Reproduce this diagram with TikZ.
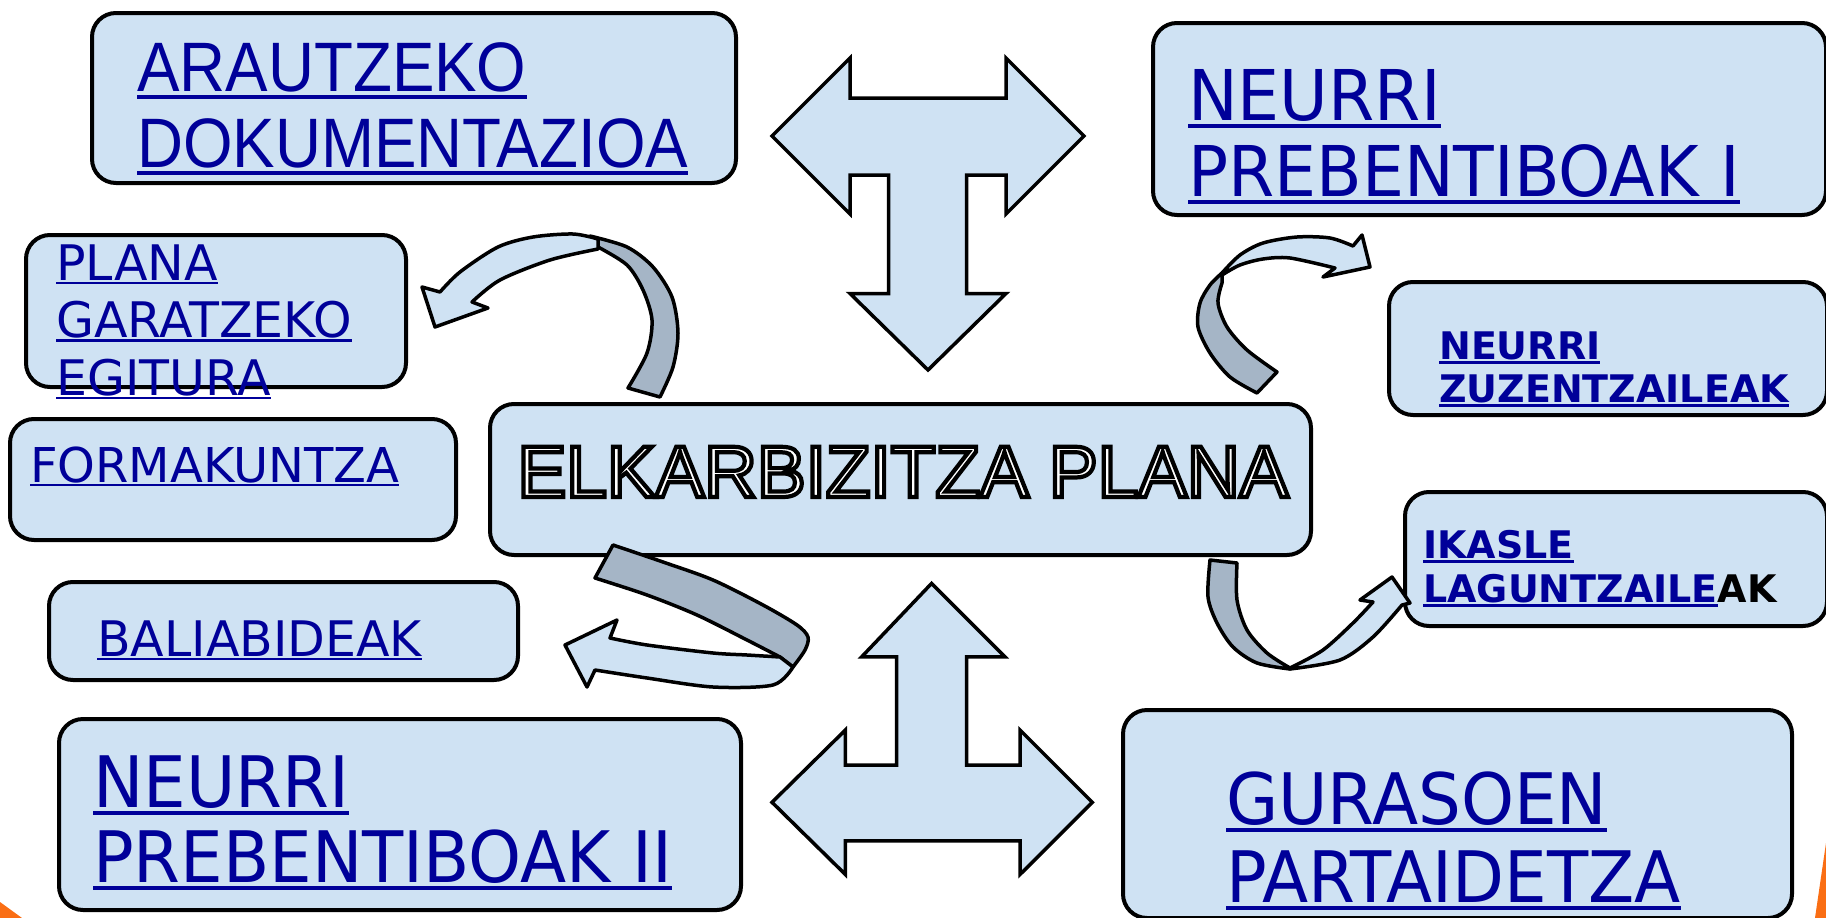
\documentclass[tikz,border=0pt]{standalone}
\usepackage{fontspec}
\setmainfont{DejaVu Sans}
\newfontfamily\arialN[FakeStretch=0.91]{Liberation Sans}
\newfontfamily\arialF{Liberation Sans}
\newfontfamily\verdN[FakeStretch=0.95]{DejaVu Sans}
\newfontfamily\verd{DejaVu Sans}
\definecolor{boxblue}{RGB}{207,226,243}
\definecolor{ribbon}{RGB}{165,181,198}
\definecolor{linkblue}{RGB}{0,0,153}
\definecolor{slideorange}{RGB}{250,110,20}
\newlength\ulw
% #1 gap below baseline, #2 thickness, #3 text
\newcommand\ulx[3]{\settowidth\ulw{#3}\rlap{\rule[-\dimexpr#1+#2\relax]{\ulw}{#2}}#3}
\newcommand\ulbig{\ulx{4pt}{3.5pt}}
\newcommand\ulmid{\ulx{1.5pt}{2.5pt}}
\newcommand\ulsm{\ulx{1.5pt}{3pt}}
\newcommand\outl[1]{{\color{black}\special{pdf:literal direct 2 Tr 4.2 w 0 0 0 RG 1 1 1 rg}#1\special{pdf:literal direct 0 Tr 1 w 0 0 0 rg 0 0 0 RG}}}
\begin{document}
\begin{tikzpicture}[x=1pt,y=-1pt,
  box/.style={rectangle, draw=black, line width=4pt, fill=boxblue, rounded corners=24pt, inner sep=0pt, anchor=north west},
  blockarrow/.style={draw=black, line width=3.5pt, fill=boxblue, line join=miter},
  ribbonlight/.style={draw=black, line width=3.5pt, fill=boxblue, line join=round},
  ribbondark/.style={draw=black, line width=3.5pt, fill=ribbon, line join=round},
  txt/.style={inner sep=0pt, anchor=base west, text=linkblue},
]
\useasboundingbox (0,0) rectangle (1826,918);
\fill[white] (0,0) rectangle (1826,918);
\fill[slideorange] (0,902) -- (22,918) -- (0,918) -- cycle;
\fill[slideorange] (1826,843) -- (1815,918) -- (1826,918) -- cycle;

% boxes
\node[box, minimum width=644pt, minimum height=170pt] (b1) at (90,11) {};
\node[box, minimum width=673pt, minimum height=192pt] (b2) at (1151,21) {};
\node[box, minimum width=380pt, minimum height=152pt] (b3) at (24,233) {};
\node[box, minimum width=446pt, minimum height=121pt] (b4) at (8,417) {};
\node[box, minimum width=469pt, minimum height=98pt] (b5) at (47,580) {};
\node[box, minimum width=682pt, minimum height=191pt] (b6) at (57,717) {};
\node[box, minimum width=669pt, minimum height=208pt] (b7) at (1121,708) {};
\node[box, minimum width=438pt, minimum height=133pt] (b8) at (1387,280) {};
\node[box, minimum width=422pt, minimum height=134pt] (b9) at (1403,490) {};
\node[box, minimum width=821pt, minimum height=151pt] (b10) at (488,402) {};

% block arrows
\filldraw[blockarrow] (772,136) -- (850,58) -- (850,98) -- (1006,98) -- (1006,58) -- (1084,136)
  -- (1006,214) -- (1006,175) -- (966.5,175) -- (966.5,293.5) -- (1006,293.5) -- (928,370)
  -- (850,293.5) -- (888.5,293.5) -- (888.5,175) -- (850,175) -- (850,214) -- cycle;
\filldraw[blockarrow] (931.6,583.4) -- (1005,656.8) -- (966.5,656.8) -- (966.5,765) -- (1020,765)
  -- (1020,730) -- (1092.3,802.3) -- (1020,874.5) -- (1020,840.8) -- (845.4,840.8) -- (845.4,874.5)
  -- (772,802.3) -- (845.4,730) -- (845.4,765) -- (896.7,765) -- (896.7,656.8) -- (861.7,656.8) -- cycle;

% curved arrow 1 (to PLANA box)
\filldraw[ribbondark] plot[smooth] coordinates {(598,247) (627,265) (643,290) (652,320) (647,353) (628,388)}
  -- plot[smooth] coordinates {(660,397) (673,367) (678,333) (672,297) (653,267) (627,247) (590,236)} -- cycle;
\filldraw[ribbonlight] plot[smooth] coordinates {(598,239) (573,234) (533,237) (498,247) (460,272) (440,292)}
  -- (422,287) -- (435,327) -- (488,308)
  -- plot[smooth] coordinates {(472,302) (500,280) (550,260) (598,249)} -- cycle;

% curved arrow 2 (to NEURRI ZUZENTZAILEAK)
\filldraw[ribbondark] plot[smooth] coordinates {(1257,393) (1230,377) (1210,353) (1198,327) (1200,303) (1210,285) (1222,273)}
  -- plot[smooth] coordinates {(1222,283) (1218,303) (1227,327) (1247,350) (1277,372)} -- cycle;
\filldraw[ribbonlight] plot[smooth] coordinates {(1222,273) (1240,255) (1263,243) (1297,237) (1330,238) (1353,246)}
  -- (1362,235) -- (1370,267) -- (1323,277)
  -- plot[smooth] coordinates {(1335,268) (1290,258) (1263,259) (1240,265) (1222,275)} -- cycle;

% curved arrow 3 (to BALIABIDEAK)
\filldraw[ribbondark] plot[smooth] coordinates {(613,545) (663,562) (713,580) (763,605) (797,625) (808,637) (805,650) (793,667)}
  -- plot[smooth] coordinates {(780,657) (747,640) (697,615) (647,595) (595,578)} -- cycle;
\filldraw[ribbonlight] plot[smooth] coordinates {(780,657) (747,655) (713,653) (647,645) (610,638)}
  -- (617,620) -- (565,645) -- (587,687)
  -- plot[smooth] coordinates {(595,670) (647,678) (713,687) (773,685) (793,667)} -- cycle;

% curved arrow 4 (to IKASLE LAGUNTZAILEAK)
\filldraw[ribbondark] plot[smooth] coordinates {(1210,560) (1208,597) (1217,623) (1233,647) (1257,663) (1290,669)}
  -- plot[smooth] coordinates {(1290,668) (1267,653) (1247,630) (1237,600) (1237,563)} -- cycle;
\filldraw[ribbonlight] plot[smooth] coordinates {(1290,669) (1340,660) (1373,637) (1402,605)}
  -- (1410,603) -- (1392,577) -- (1360,600)
  -- plot[smooth] coordinates {(1373,602) (1353,623) (1323,650) (1290,668)} -- cycle;

% texts
\node[txt, font={\arialN\fontsize{70}{76}\selectfont}] (t1) at (137,91)
  {\vtop{\hbox{\ulbig{ARAUTZEKO}}\hbox{\ulbig{DOKUMENTAZIOA}}}};
\node[txt, font={\verdN\fontsize{70}{76}\selectfont}] (t2) at (1188,120)
  {\vtop{\hbox{\ulbig{NEURRI}}\hbox{\ulbig{PREBENTIBOAK I}}}};
\node[txt, font={\verd\fontsize{49}{57.5}\selectfont}] (t3) at (56,280)
  {\vtop{\hbox{\ulmid{PLANA}}\hbox{\ulmid{GARATZEKO}}\hbox{\ulmid{EGITURA}}}};
\node[txt, font={\verd\fontsize{48}{57}\selectfont}] (t4) at (30,482) {\ulmid{FORMAKUNTZA}};
\node[txt, font={\verd\fontsize{49}{57}\selectfont}] (t5) at (97,656) {\ulmid{BALIABIDEAK}};
\node[txt, font={\verdN\fontsize{71}{75}\selectfont}] (t6) at (93,807)
  {\vtop{\hbox{\ulbig{NEURRI}}\hbox{\ulbig{PREBENTIBOAK II}}}};
\node[txt, font={\verdN\fontsize{71}{78}\selectfont}] (t7) at (1226,824)
  {\vtop{\hbox{\ulbig{GURASOEN}}\hbox{\ulbig{PARTAIDETZA}}}};
\node[txt, font={\verd\bfseries\fontsize{38}{43}\selectfont}] (t8) at (1439,359)
  {\vtop{\hbox{\ulsm{NEURRI}}\hbox{\ulsm{ZUZENTZAILEAK}}}};
\node[txt, font={\verd\bfseries\fontsize{38}{44}\selectfont}] (t9) at (1423,558)
  {\vtop{\hbox{\ulsm{IKASLE}}\hbox{\ulsm{LAGUNTZAILE}{\color{black}AK}}}};
\node[inner sep=0pt, anchor=base, font={\arialF\fontsize{73}{80}\selectfont}] (t10) at (903,497)
  {\outl{ELKARBIZITZA PLANA}};
\end{tikzpicture}
\end{document}
